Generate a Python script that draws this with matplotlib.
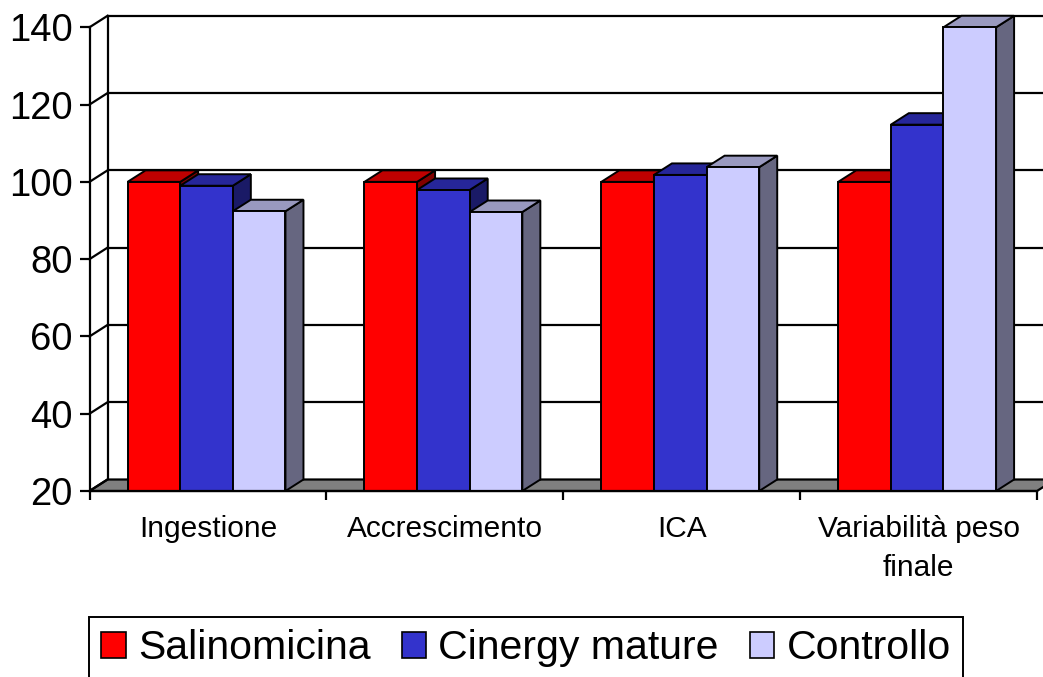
import matplotlib
matplotlib.use("Agg")
import matplotlib.pyplot as plt
from matplotlib.patches import Polygon, Patch
import numpy as np

plt.rcParams['font.family'] = ['Liberation Sans', 'DejaVu Sans']

categories = ["Ingestione", "Accrescimento", "ICA", "Variabilità peso\nfinale"]
series_names = ["Salinomicina", "Cinergy mature", "Controllo"]
salinomicina = [100, 100, 100, 100]
cinergy = [99.0, 97.9, 101.8, 114.8]
controllo = [92.4, 92.2, 103.8, 140.0]
yticks = [20, 40, 60, 80, 100, 120, 140]

front_colors = ["#FF0000", "#3333CC", "#CCCCFF"]
top_colors = ["#BF0000", "#262699", "#9999BF"]
side_colors = ["#800000", "#1A1A66", "#666680"]

W, H = 1043, 677
fig = plt.figure(figsize=(W / 100, H / 100), dpi=100)
ax = fig.add_axes([89.5 / W, 186 / H, (1037 - 89.5) / W, (491 - 27.3) / H])
ax.set_xlim(0, 4)
ax.set_ylim(20, 140)
ax.patch.set_visible(False)

# 3D depth offsets in data units
dx = 18 / ((1037 - 89.5) / 4)
dy = 11.5 / ((491 - 27.3) / 120)
base = yticks[0]
top = yticks[-1]
ncat = len(categories)
lw_grid = 1.6
lw_bar = 1.4

# floor
floor = Polygon([(0, base), (ncat, base), (ncat + dx, base + dy), (dx, base + dy)],
                closed=True, facecolor="#808080", edgecolor="black", lw=lw_grid,
                zorder=1, clip_on=False)
ax.add_patch(floor)

# back wall gridlines and left wall diagonals
for v in yticks:
    if v > base:
        ax.plot([dx, ncat + dx], [v + dy, v + dy], color="black", lw=lw_grid,
                zorder=1.5, clip_on=False, solid_capstyle="butt")
    ax.plot([0, dx], [v, v + dy], color="black", lw=lw_grid, zorder=1.5, clip_on=False)
ax.plot([dx, dx], [base + dy, top + dy], color="black", lw=lw_grid, zorder=1.5, clip_on=False)

# bars
series = [salinomicina, cinergy, controllo]
nser = len(series)
bw = 2 / 9  # three bars of width bw, gap 150%
z = 3.0
for i in range(ncat):
    x_start = i + 0.5 - nser * bw / 2 - 0.006
    for s in range(nser):
        v = series[s][i]
        x0 = x_start + s * bw
        side = Polygon([(x0 + bw, base), (x0 + bw + dx, base + dy),
                        (x0 + bw + dx, v + dy), (x0 + bw, v)],
                       closed=True, facecolor=side_colors[s], edgecolor="black",
                       lw=lw_bar, zorder=z, clip_on=False, joinstyle="miter")
        topf = Polygon([(x0, v), (x0 + bw, v), (x0 + bw + dx, v + dy), (x0 + dx, v + dy)],
                       closed=True, facecolor=top_colors[s], edgecolor="black",
                       lw=lw_bar, zorder=z + 0.001, clip_on=False, joinstyle="miter")
        ax.add_patch(side)
        ax.add_patch(topf)
        ax.bar(x0, v - base, bottom=base, width=bw, align="edge",
               color=front_colors[s], edgecolor="black", lw=lw_bar,
               zorder=z + 0.002, clip_on=False)
        z += 0.01

# spines and ticks
for sp in ["top", "right"]:
    ax.spines[sp].set_visible(False)
ax.spines["left"].set_linewidth(lw_grid)
ax.spines["bottom"].set_linewidth(lw_grid)
ax.spines["left"].set_zorder(2)
ax.spines["bottom"].set_zorder(10)

ax.set_yticks(yticks)
ax.set_yticklabels([str(t) for t in yticks], fontsize=27.5)
ax.tick_params(axis="y", direction="out", length=7.2, width=lw_grid, pad=5)

ax.set_xticks(np.arange(ncat + 1))
ax.set_xticklabels([])
ax.tick_params(axis="x", which="major", direction="out", length=6.5, width=lw_grid)
ax.set_xticks(np.arange(ncat) + 0.5, minor=True)
ax.set_xticklabels(categories, minor=True, fontsize=21.5, linespacing=1.5)
ax.tick_params(axis="x", which="minor", length=0, pad=17)

# legend
handles = [Patch(facecolor=c, edgecolor="black", lw=1.2) for c in front_colors]
leg = fig.legend(handles, series_names, loc="upper left",
                 bbox_to_anchor=(89 / W, 1 - 617 / H), ncol=3, frameon=True,
                 fancybox=False, edgecolor="black", framealpha=1,
                 borderaxespad=0, fontsize=29.5, handlelength=0.6, handleheight=0.6,
                 handletextpad=0.3, columnspacing=0.75, borderpad=0.3)
leg.get_frame().set_linewidth(1.4)

fig.savefig("out.png", dpi=100)
